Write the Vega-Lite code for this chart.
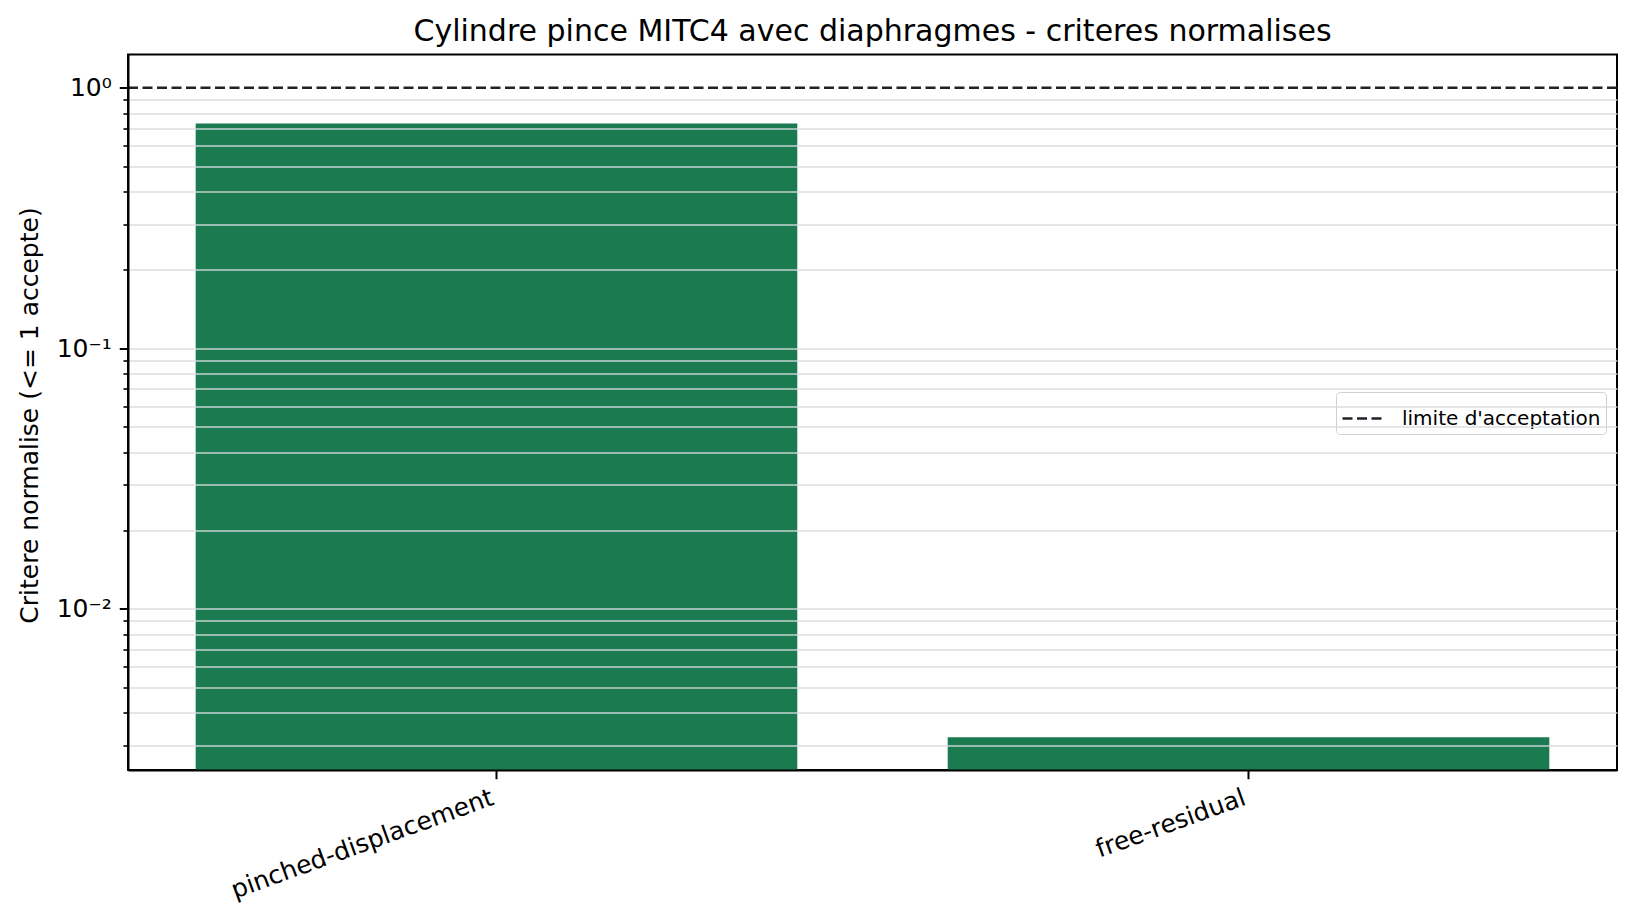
{
  "$schema": "https://vega.github.io/schema/vega-lite/v6.json",
  "autosize": {"type": "none"},
  "padding": {"left": 128, "top": 54.5, "right": 18, "bottom": 144},
  "width": 1489,
  "height": 715.5,
  "background": "white",
  "title": {
    "text": "Cylindre pince MITC4 avec diaphragmes - criteres normalises",
    "anchor": "middle",
    "offset": 7.5,
    "font": "DejaVu Sans",
    "fontSize": 30,
    "fontWeight": "normal",
    "color": "black"
  },
  "layer": [
    {
      "data": {
        "values": [
          {"critere": "pinched-displacement", "valeur": 0.729},
          {"critere": "free-residual", "valeur": 0.00322}
        ]
      },
      "mark": {"type": "bar", "color": "#1b7a50"},
      "encoding": {
        "x": {
          "field": "critere",
          "type": "nominal",
          "sort": null,
          "scale": {"paddingInner": 0.2, "paddingOuter": 0.09},
          "axis": {
            "title": null,
            "labelAngle": -20,
            "labelAlign": "right",
            "labelBaseline": "top",
            "labelPadding": 6,
            "labelOffset": -8,
            "labelLimit": 0,
            "labelFont": "DejaVu Sans",
            "labelFontSize": 25,
            "labelColor": "black",
            "tickSize": 8.75,
            "tickWidth": 2,
            "tickColor": "black",
            "domainColor": "black",
            "domainWidth": 2,
            "grid": false,
            "zindex": 1
          }
        },
        "y": {
          "field": "valeur",
          "type": "quantitative",
          "scale": {"type": "log", "domain": [0.00241, 1.342], "nice": false},
          "axis": {
            "orient": "left",
            "title": "Critere normalise (<= 1 accepte)",
            "titleFont": "DejaVu Sans",
            "titleFontSize": 25,
            "titleFontWeight": "normal",
            "titleColor": "black",
            "titleAngle": 270,
            "titleAlign": "center",
            "titleBaseline": "alphabetic",
            "titleX": -90.5,
            "titleY": 360.5,
            "values": [0.01, 0.1, 1],
            "labelExpr": "datum.value >= 0.5 ? '10⁰' : datum.value >= 0.05 ? '10⁻¹' : '10⁻²'",
            "labelFont": "DejaVu Sans",
            "labelFontSize": 25,
            "labelColor": "black",
            "labelPadding": 8,
            "tickSize": 8.75,
            "tickWidth": 2,
            "tickColor": "black",
            "domainColor": "black",
            "domainWidth": 2,
            "grid": false,
            "zindex": 1
          }
        },
        "y2": {"datum": 0.00241}
      }
    },
    {
      "data": {"values": [{"limite": "limite d'acceptation", "y": 1}]},
      "mark": {"type": "rule", "color": "#1f2328", "strokeWidth": 2.5},
      "encoding": {
        "y": {
          "field": "y",
          "type": "quantitative",
          "axis": {
            "orient": "left",
            "title": null,
            "values": [0.003, 0.004, 0.005, 0.006, 0.007, 0.008, 0.009, 0.01, 0.02, 0.03, 0.04, 0.05, 0.06, 0.07, 0.08, 0.09, 0.1, 0.2, 0.3, 0.4, 0.5, 0.6, 0.7, 0.8, 0.9],
            "labels": false,
            "domain": false,
            "tickSize": 5,
            "tickWidth": 1.6,
            "tickColor": "black",
            "grid": true,
            "gridColor": "#d6dbdf",
            "gridOpacity": 0.9,
            "gridWidth": 1.6,
            "zindex": 1
          }
        },
        "strokeDash": {
          "field": "limite",
          "type": "nominal",
          "scale": {"range": [[10, 4.5]]},
          "legend": {
            "title": null,
            "orient": "none",
            "legendX": 1208,
            "legendY": 337.5,
            "symbolType": "stroke",
            "symbolSize": 1600,
            "symbolStrokeWidth": 2.5,
            "symbolStrokeColor": "#1f2328",
            "labelFont": "DejaVu Sans",
            "labelFontSize": 20,
            "labelColor": "black",
            "labelOffset": 18,
            "labelLimit": 0,
            "padding": 5,
            "fillColor": "white",
            "strokeColor": "#d0d0d0",
            "cornerRadius": 4
          }
        }
      }
    }
  ],
  "resolve": {"axis": {"y": "independent"}},
  "config": {
    "view": {"stroke": "black", "strokeWidth": 2},
    "font": "DejaVu Sans"
  }
}
